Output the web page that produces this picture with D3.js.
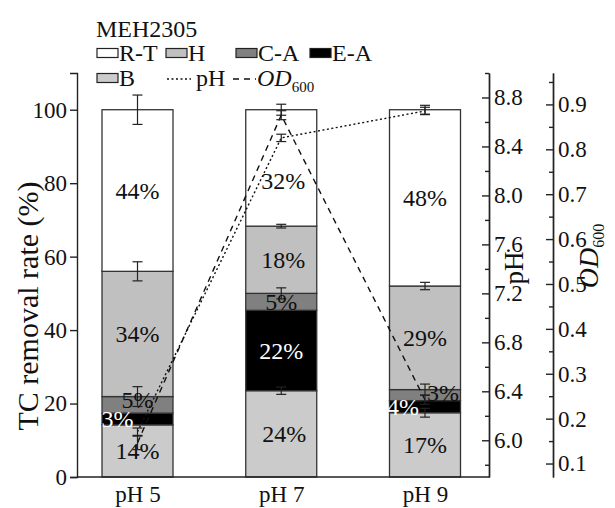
<!DOCTYPE html>
<html>
<head>
<meta charset="utf-8">
<script src="https://cdn.jsdelivr.net/npm/d3@7"></script>
<style>
  body { margin: 0; background: #fff; }
  svg text { font-family: "Liberation Serif", "DejaVu Serif", serif; fill: #111; }
</style>
</head>
<body>
<div id="chart"></div>
<script>
// categories
const groups = ["pH 5", "pH 7", "pH 9"];
// stacked fractions, bottom to top
const fractions = ["B", "E-A", "C-A", "H", "R-T"];
const bVals  = [14.2, 23.5, 17.5];
const eaVals = [3.2, 21.9, 3.3];
const caVals = [4.5, 4.6, 3.0];
const hVals  = [34.1, 18.3, 28.2];
const rtVals = [44.0, 31.7, 48.0];
// error bars at the top of each segment
const bErr  = [0, 1.0, 1.2];
const eaErr = [0, 0, 0];
const caErr = [2.7, 1.5, 1.5];
const hErr  = [2.6, 0.5, 1.0];
const rtErr = [4.0, 1.5, 1.2];
// percentage labels
const bLbl  = ["14%", "24%", "17%"];
const eaLbl = ["3%", "22%", "4%"];
const caLbl = ["5%", "5%", "3%"];
const hLbl  = ["34%", "18%", "29%"];
const rtLbl = ["44%", "32%", "48%"];
// lines
const phVals = [6.07, 8.47, 8.69];
const phErr  = [0.03, 0.03, 0.03];
const odVals = [0.146, 0.876, 0.242];
const odErr  = [0.015, 0.01, 0.01];
// axis ticks
const yTicks  = [0, 20, 40, 60, 80, 100];
const phTicks = [6.0, 6.4, 6.8, 7.2, 7.6, 8.0, 8.4, 8.8];
const phMinor = [5.8, 6.2, 6.6, 7.0, 7.4, 7.8, 8.2, 8.6, 9.0];
const odTicks = [0.1, 0.2, 0.3, 0.4, 0.5, 0.6, 0.7, 0.8, 0.9];
const odMinor = [0.15, 0.25, 0.35, 0.45, 0.55, 0.65, 0.75, 0.85, 0.95];

const W = 615, H = 508;
const mLeft = 77, mRight = 489, odX = 553, mTop = 73, mBottom = 477;
const fillC = { "B": "#cbcbcb", "E-A": "#000000", "C-A": "#808080", "H": "#c0c0c0", "R-T": "#ffffff" };
const vals = { "B": bVals, "E-A": eaVals, "C-A": caVals, "H": hVals, "R-T": rtVals };
const errs = { "B": bErr, "E-A": eaErr, "C-A": caErr, "H": hErr, "R-T": rtErr };
const lbls = { "B": bLbl, "E-A": eaLbl, "C-A": caLbl, "H": hLbl, "R-T": rtLbl };

const svg = d3.select("#chart").append("svg").attr("width", W).attr("height", H);

const x = d3.scalePoint().domain(groups).range([137.5, 425]);
const y = d3.scaleLinear().domain([0, 110]).range([mBottom, mTop]);
const yPh = d3.scaleLinear().domain([5.7, 9.0]).range([mBottom, mTop]);
const yOd = d3.scaleLinear().domain([0.07, 0.97]).range([mBottom, mTop]);
const barW = 71;

const table = groups.map((g, i) => {
  const row = { group: g };
  fractions.forEach(f => row[f] = vals[f][i]);
  return row;
});
const series = d3.stack().keys(fractions)(table);

// bars
series.forEach(s => {
  svg.append("g").selectAll("rect").data(s).enter().append("rect")
    .attr("x", d => x(d.data.group) - barW / 2)
    .attr("y", d => y(d[1]))
    .attr("width", barW)
    .attr("height", d => y(d[0]) - y(d[1]))
    .attr("fill", fillC[s.key])
    .attr("stroke", "#333").attr("stroke-width", 1.3);
});

// error bars
function errBar(cx, cy, e, sc) {
  if (!e) return;
  const g = svg.append("g").attr("stroke", "#222").attr("stroke-width", 1.2);
  g.append("line").attr("x1", cx).attr("x2", cx).attr("y1", sc(cy - e)).attr("y2", sc(cy + e));
  [cy - e, cy + e].forEach(v => g.append("line").attr("x1", cx - 5).attr("x2", cx + 5).attr("y1", sc(v)).attr("y2", sc(v)));
}
series.forEach(s => s.forEach((d, i) => errBar(x(d.data.group), d[1], errs[s.key][i], y)));

// labels (small nudges for the crowded thin segments)
const nudge = { "0E-A": [-20, 0], "0C-A": [0, -5], "2C-A": [18, -2], "2E-A": [-22, 0], "1R-T": [2, 13], "1H": [2, 0], "1B": [3, 0] };
series.forEach(s => s.forEach((d, i) => {
  const n = nudge[i + s.key] || [0, 0];
  svg.append("text")
    .attr("x", x(d.data.group) + n[0])
    .attr("y", (y(d[0]) + y(d[1])) / 2 + n[1])
    .attr("dy", "0.35em")
    .attr("text-anchor", "middle")
    .style("font-size", "24px")
    .style("fill", s.key === "E-A" ? "#fff" : "#111")
    .text(lbls[s.key][i]);
}));

// lines
svg.append("path").datum(phVals)
  .attr("fill", "none").attr("stroke", "#111").attr("stroke-width", 1.4).attr("stroke-dasharray", "2,2.5")
  .attr("d", d3.line().x((d, i) => x(groups[i])).y(d => yPh(d)));
svg.append("path").datum(odVals)
  .attr("fill", "none").attr("stroke", "#111").attr("stroke-width", 1.4).attr("stroke-dasharray", "6,5")
  .attr("d", d3.line().x((d, i) => x(groups[i])).y(d => yOd(d)));
phVals.forEach((v, i) => errBar(x(groups[i]), v, phErr[i], yPh));
odVals.forEach((v, i) => errBar(x(groups[i]), v, odErr[i], yOd));

// axes
const axStyle = g => {
  g.selectAll("path,line").attr("stroke", "#222").attr("stroke-width", 1.4);
  g.selectAll("text").style("font-size", "23px").style("font-family", "Liberation Serif").attr("fill", "#111");
};
svg.append("g").attr("transform", `translate(${mLeft},0)`)
  .call(d3.axisLeft(y).tickValues(yTicks).tickSizeOuter(0).tickSize(7).tickPadding(3))
  .call(axStyle);
svg.append("line").attr("x1", mLeft).attr("x2", mRight).attr("y1", mBottom).attr("y2", mBottom)
  .attr("stroke", "#222").attr("stroke-width", 1.4);
svg.append("g").attr("transform", `translate(0,${mBottom})`)
  .call(d3.axisBottom(x).tickSize(0).tickPadding(9))
  .call(g => g.select(".domain").remove())
  .call(axStyle);

svg.append("g").attr("transform", `translate(${mRight},0)`)
  .call(d3.axisRight(yPh).tickValues(phTicks).tickFormat(d3.format(".1f")).tickSizeOuter(0).tickSizeInner(-7).tickPadding(5))
  .call(axStyle);
svg.append("g").attr("transform", `translate(${mRight},0)`)
  .call(d3.axisRight(yPh).tickValues(phMinor).tickFormat("").tickSizeOuter(0).tickSizeInner(-4))
  .call(axStyle);
svg.append("g").attr("transform", `translate(${odX},0)`)
  .call(d3.axisRight(yOd).tickValues(odTicks).tickFormat(d3.format(".1f")).tickSizeOuter(0).tickSizeInner(-7).tickPadding(5))
  .call(axStyle);
svg.append("g").attr("transform", `translate(${odX},0)`)
  .call(d3.axisRight(yOd).tickValues(odMinor).tickFormat("").tickSizeOuter(0).tickSizeInner(-4))
  .call(axStyle);

// axis titles
svg.append("text").attr("transform", `translate(38,306) rotate(-90)`)
  .attr("text-anchor", "middle").style("font-size", "30px").text("TC removal rate (%)");
svg.append("text").attr("transform", `translate(523,268) rotate(-90)`)
  .attr("text-anchor", "middle").style("font-size", "27px").text("pH");
const odT = svg.append("text").attr("transform", `translate(598,256) rotate(-90)`)
  .attr("text-anchor", "middle").style("font-size", "28px");
odT.append("tspan").style("font-style", "italic").text("OD");
odT.append("tspan").attr("dy", 6).style("font-size", "16px").text("600");

// legend
const lg = svg.append("g").style("font-size", "24px");
lg.append("text").attr("x", 96).attr("y", 29).attr("dy", "0.35em").text("MEH2305");
const legendRows = [
  { key: "R-T", x: 97, y: 53 }, { key: "H", x: 166, y: 53 },
  { key: "C-A", x: 236, y: 53 }, { key: "E-A", x: 310, y: 53 },
  { key: "B", x: 97, y: 78 }
];
legendRows.forEach(r => {
  lg.append("rect").attr("x", r.x).attr("y", r.y - 4.5).attr("width", 21).attr("height", 9)
    .attr("fill", fillC[r.key]).attr("stroke", "#222").attr("stroke-width", 1.2);
  lg.append("text").attr("x", r.x + 22).attr("y", r.y).attr("dy", "0.35em").text(r.key);
});
lg.append("line").attr("x1", 167).attr("x2", 191).attr("y1", 79).attr("y2", 79)
  .attr("stroke", "#111").attr("stroke-width", 1.4).attr("stroke-dasharray", "2,2.5");
lg.append("text").attr("x", 196).attr("y", 78).attr("dy", "0.35em").text("pH");
lg.append("line").attr("x1", 233).attr("x2", 256).attr("y1", 79).attr("y2", 79)
  .attr("stroke", "#111").attr("stroke-width", 1.4).attr("stroke-dasharray", "6,5");
const odL = lg.append("text").attr("x", 257).attr("y", 78).attr("dy", "0.35em");
odL.append("tspan").style("font-style", "italic").text("OD");
odL.append("tspan").attr("dy", 6).style("font-size", "15px").text("600");
</script>
</body>
</html>
